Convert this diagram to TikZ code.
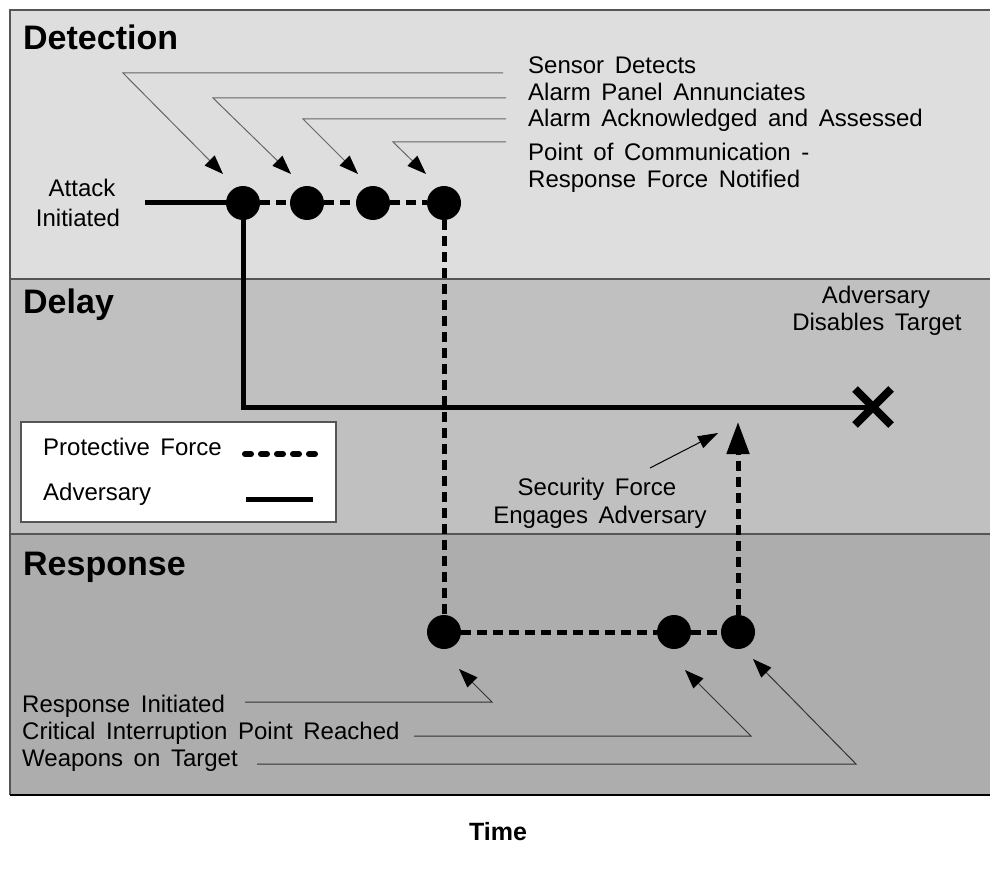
\documentclass[tikz,border=0pt]{standalone}
\usepackage{fontspec}
\setmainfont{Liberation Sans}
\usetikzlibrary{arrows.meta,shapes.misc}

\definecolor{detbg}{HTML}{DEDEDE}
\definecolor{delbg}{HTML}{C0C0C0}
\definecolor{resbg}{HTML}{ADADAD}
\definecolor{framec}{HTML}{555555}

% body text: 24pt with slightly wider word spaces
\newcommand\labelfont{\fontsize{24}{27}\selectfont\setlength{\spaceskip}{10.6pt plus 2pt minus 1pt}}

\tikzset{
  lbl/.style={inner sep=0pt, text height=17.2pt, text depth=0pt,
              font=\labelfont},
  phase/.style={inner sep=0pt, anchor=base west,
              font=\fontsize{34}{40}\selectfont\bfseries},
  event/.style={circle, fill=black, draw=none, minimum size=34pt, inner sep=0pt},
  adv/.style={line width=5pt, black},
  prot/.style={line width=5pt, black, dash pattern=on 10pt off 6pt},
  callout/.style={line width=1pt, black!80,
              -{Triangle[length=19pt,width=14pt,black]}},
  callouttop/.style={callout, gray!80!black}
}

\begin{document}
\begin{tikzpicture}[x=1pt,y=-1pt]
  \useasboundingbox (0,0) rectangle (990,869);

  % phase bands
  \fill[detbg] (10,10) rectangle (990,279);
  \fill[delbg] (10,279) rectangle (990,534);
  \fill[resbg] (10,534) rectangle (990,795);
  \draw[framec, line width=2pt] (990,10) -- (10,10) -- (10,795);
  \draw[framec, line width=1.6pt] (10,279) -- (990,279);
  \draw[framec, line width=1.6pt] (10,534) -- (990,534);
  \draw[black, line width=2pt] (10,795) -- (990,795);

  % phase titles
  \node[phase] (tdet) at (23,50) {Detection};
  \node[phase] (tdel) at (23,313) {Delay};
  \node[phase] (tres) at (23,575) {Response};
  \node[inner sep=0pt, anchor=base, font=\fontsize{25}{30}\selectfont\bfseries]
    (ttime) at (498,840) {Time};

  % legend
  \node[draw=framec, line width=1.5pt, fill=white, minimum width=315pt,
        minimum height=100pt, inner sep=0pt] (legend) at (178.5,472) {};
  \node[lbl, anchor=west] (lgp) at (43,447) {Protective Force};
  \node[lbl, anchor=west] (lga) at (43,492) {Adversary};
  \coordinate (lgp1) at (245,454);
  \coordinate (lgp2) at (316,454);
  \coordinate (lga1) at (246,499);
  \coordinate (lga2) at (313,499);
  \draw[line width=6pt, line cap=round, dash pattern=on 6pt off 10pt] (lgp1) -- (lgp2);
  \draw[adv] (lga1) -- (lga2);

  % event points
  \node[event] (c1) at (243,203) {};
  \node[event] (c2) at (307,203) {};
  \node[event] (c3) at (373,203) {};
  \node[event] (c4) at (444,203) {};
  \node[event] (c5) at (444,632) {};
  \node[event] (c6) at (674,632) {};
  \node[event] (c7) at (738,632) {};

  % adversary path
  \coordinate (atk) at (145,203);
  \coordinate (turn) at (243,407);
  \coordinate (tgt) at (873,407);
  \draw[adv] (atk) -- (c1.center);
  \draw[adv, line join=miter] (c1.center) -- (turn) -- (tgt);
  \node[cross out, draw=black, line width=8pt, minimum size=28pt,
        inner sep=0pt] (xmark) at (tgt) {};

  % protective force path
  \draw[prot] (c1) -- (c2);
  \draw[prot] (c2) -- (c3);
  \draw[prot] (c3) -- (c4);
  \draw[prot] (c4) -- (c5);
  \draw[prot] (c5) -- (c6);
  \draw[prot] (c6) -- (c7);
  \coordinate (engage) at (738,422);
  \draw[prot, -{Triangle[length=32pt,width=22pt]}] (c7) -- (engage);

  % labels
  \node[lbl] (atk1) at (82,188) {Attack};
  \node[lbl] (atk2) at (78,218) {Initiated};
  \node[lbl] (dis1) at (876,295) {Adversary};
  \node[lbl] (dis2) at (877,322) {Disables Target};
  \node[lbl] (sf1) at (597,487) {Security Force};
  \node[lbl] (sf2) at (600,515) {Engages Adversary};
  \coordinate (sfa) at (650,468);
  \coordinate (sfb) at (718,433);
  \draw[line width=1pt, -{Triangle[length=20pt,width=13pt]}] (sfa) -- (sfb);

  % detection call-outs
  \node[lbl, anchor=west] (n1) at (528,65) {Sensor Detects};
  \node[lbl, anchor=west] (n2) at (528,92) {Alarm Panel Annunciates};
  \node[lbl, anchor=west] (n3) at (528,118) {Alarm Acknowledged and Assessed};
  \node[lbl, anchor=west] (n4) at (528,152) {Point of Communication -};
  \node[lbl, anchor=west] (n4b) at (528,179) {Response Force Notified};

  \coordinate (k1a) at (503,73);  \coordinate (k1b) at (123,73);  \coordinate (k1c) at (223,174);
  \coordinate (k2a) at (506,98);  \coordinate (k2b) at (213,98);  \coordinate (k2c) at (291,174);
  \coordinate (k3a) at (506,119); \coordinate (k3b) at (303,119); \coordinate (k3c) at (358,174);
  \coordinate (k4a) at (506,142); \coordinate (k4b) at (393,142); \coordinate (k4c) at (426,174);
  \draw[callouttop] (k1a) -- (k1b) -- (k1c);
  \draw[callouttop] (k2a) -- (k2b) -- (k2c);
  \draw[callouttop] (k3a) -- (k3b) -- (k3c);
  \draw[callouttop] (k4a) -- (k4b) -- (k4c);

  % response call-outs
  \node[lbl, anchor=west] (r1) at (22,704) {Response Initiated};
  \node[lbl, anchor=west] (r2) at (22,731) {Critical Interruption Point Reached};
  \node[lbl, anchor=west] (r3) at (22,758) {Weapons on Target};

  \coordinate (q1a) at (245,702); \coordinate (q1b) at (492,702); \coordinate (q1c) at (459,669);
  \coordinate (q2a) at (414,736); \coordinate (q2b) at (751,736); \coordinate (q2c) at (685,670);
  \coordinate (q3a) at (257,764); \coordinate (q3b) at (856,764); \coordinate (q3c) at (753,659);
  \draw[callout] (q1a) -- (q1b) -- (q1c);
  \draw[callout] (q2a) -- (q2b) -- (q2c);
  \draw[callout] (q3a) -- (q3b) -- (q3c);
\end{tikzpicture}
\end{document}
